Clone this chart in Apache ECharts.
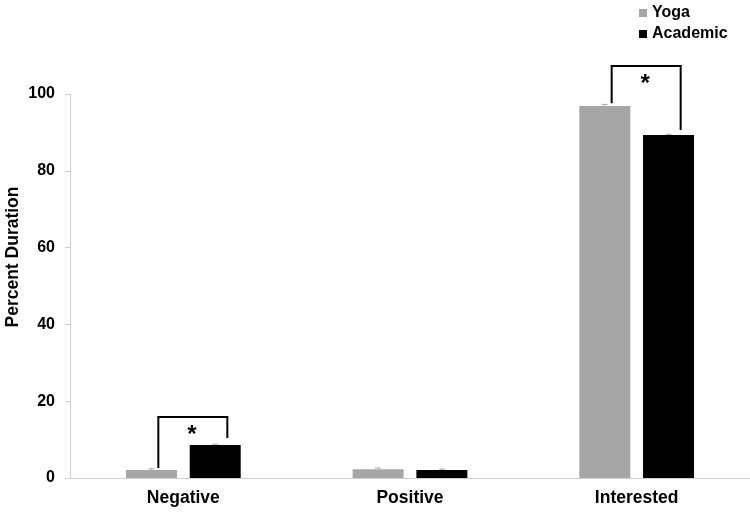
<!DOCTYPE html>
<html>
<head>
<meta charset="utf-8">
<script src="https://cdn.jsdelivr.net/npm/echarts@6/dist/echarts.min.js"></script>
<style>
  html, body { margin: 0; padding: 0; background: #fff; }
  #main { width: 750px; height: 512px; }
</style>
</head>
<body>
<div id="main"></div>
<script>
const categories = ["Negative", "Positive", "Interested"];
const yogaValues = [2.1, 2.3, 96.9];
const academicValues = [8.6, 2.1, 89.3];
const yogaErrors = [0.3, 0.3, 0.4];
const academicErrors = [0.2, 0.2, 0.2];
// significance brackets: [category index, left foot, right foot, top]
const brackets = [
  [0, 2.6, 10.4, 15.9],
  [2, 97.6, 90.6, 107.3]
];

const BAR_W = 51;
const BAR_OFF = 32; // half of bar width + half of gap

const chart = echarts.init(document.getElementById("main"));

const font = "'Liberation Sans', Arial, sans-serif";

const errorItem = (side) => (params, api) => {
  const x = api.coord([api.value(0), 0])[0] + side * BAR_OFF;
  const hi = api.coord([api.value(0), api.value(1) + api.value(2)])[1];
  const lo = api.coord([api.value(0), api.value(1)])[1];
  return {
    type: "group",
    children: [
      { type: "line", shape: { x1: x, y1: lo, x2: x, y2: hi }, style: { stroke: "#a6a6a6", lineWidth: 1 } },
      { type: "line", shape: { x1: x - 3, y1: hi, x2: x + 3, y2: hi }, style: { stroke: "#a6a6a6", lineWidth: 1 } }
    ]
  };
};

const option = {
  animation: false,
  textStyle: { fontFamily: font },
  legend: {
    orient: "vertical",
    left: 634,
    top: 0,
    icon: "rect",
    itemWidth: 8,
    itemHeight: 8,
    itemGap: 5,
    textStyle: { fontFamily: font, fontWeight: "bold", fontSize: 16, color: "#000" },
    data: ["Yoga", "Academic"]
  },
  grid: { left: 70, right: 0, top: 94, bottom: 34, outerBoundsMode: "none", containLabel: false },
  xAxis: {
    type: "category",
    data: categories,
    axisLine: { lineStyle: { color: "#d0d0d0" } },
    axisTick: { show: false },
    axisLabel: { fontFamily: font, fontWeight: "bold", fontSize: 17.5, color: "#000", margin: 11 }
  },
  yAxis: {
    type: "value",
    min: 0,
    max: 100,
    interval: 20,
    name: "Percent Duration",
    nameLocation: "middle",
    nameGap: 48,
    nameMoveOverlap: false,
    nameTextStyle: { fontFamily: font, fontWeight: "bold", fontSize: 17.5, color: "#000", padding: [0, 0, 0, 58] },
    axisLine: { show: true, lineStyle: { color: "#d0d0d0" } },
    axisTick: { show: true, length: 5, lineStyle: { color: "#d0d0d0" } },
    splitLine: { show: false },
    axisLabel: { fontFamily: font, fontWeight: "bold", fontSize: 16, color: "#000", margin: 15 }
  },
  series: [
    {
      name: "Yoga",
      type: "bar",
      data: yogaValues,
      barWidth: BAR_W,
      barGap: "25%",
      itemStyle: { color: "#a6a6a6" }
    },
    {
      name: "Academic",
      type: "bar",
      data: academicValues,
      barWidth: BAR_W,
      itemStyle: { color: "#000" }
    },
    {
      type: "custom",
      silent: true,
      data: yogaValues.map((v, i) => [i, v, yogaErrors[i]]),
      renderItem: errorItem(-1),
      z: 5
    },
    {
      type: "custom",
      silent: true,
      data: academicValues.map((v, i) => [i, v, academicErrors[i]]),
      renderItem: errorItem(1),
      z: 5
    },
    {
      type: "custom",
      silent: true,
      clip: false,
      data: brackets,
      renderItem: (params, api) => {
        const cx = api.coord([api.value(0), 0])[0];
        const xl = cx - BAR_OFF + 7;
        const xr = cx + BAR_OFF + 12;
        const yl = api.coord([api.value(0), api.value(1)])[1];
        const yr = api.coord([api.value(0), api.value(2)])[1];
        const yt = api.coord([api.value(0), api.value(3)])[1];
        return {
          type: "group",
          children: [
            {
              type: "polyline",
              shape: { points: [[xl, yl], [xl, yt], [xr, yt], [xr, yr]] },
              style: { stroke: "#000", lineWidth: 2, fill: null }
            },
            {
              type: "text",
              style: {
                x: (xl + xr) / 2 - 1,
                y: yt + 6,
                text: "*",
                font: "bold 24px " + font,
                fill: "#000",
                align: "center",
                verticalAlign: "top"
              }
            }
          ]
        };
      },
      z: 6
    }
  ]
};

chart.setOption(option);
</script>
</body>
</html>
